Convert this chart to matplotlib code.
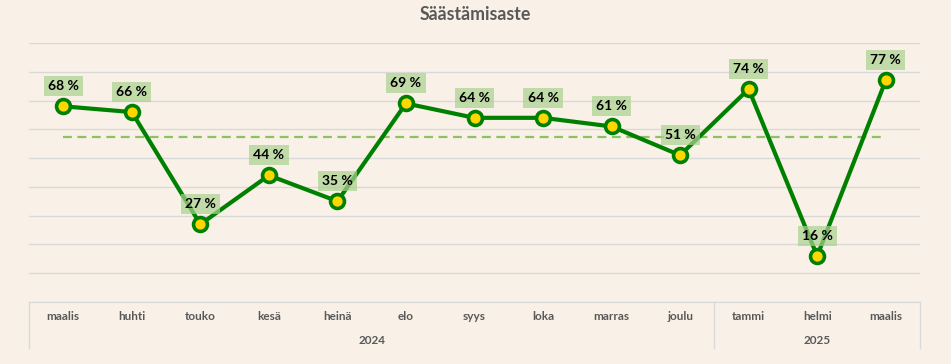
import matplotlib
matplotlib.use("Agg")
import matplotlib.pyplot as plt
from matplotlib.transforms import blended_transform_factory

months = ["maalis", "huhti", "touko", "kesä", "heinä", "elo", "syys",
          "loka", "marras", "joulu", "tammi", "helmi", "maalis"]
values = [68, 66, 27, 44, 35, 69, 64, 64, 61, 51, 74, 16, 77]
years = ["2024", "2025"]
year_counts = [10, 3]
average = 57.2

BG = "#f9f1e7"
GRID = "#d9d9d9"
TXT = "#595959"

plt.rcParams["font.family"] = ["Lato", "DejaVu Sans"]

fig = plt.figure(figsize=(9.51, 3.64), dpi=100, facecolor=BG)
ax = fig.add_axes([29/951, 1 - 302/364, (920 - 29)/951, (302 - 43)/364])
ax.set_facecolor(BG)

x = list(range(len(values)))
ax.set_xlim(-0.5, len(values) - 0.5)
ax.set_ylim(0, 90)
ax.set_yticks(range(0, 91, 10))
ax.grid(axis="y", color=GRID, lw=1)
ax.set_axisbelow(True)
ax.tick_params(left=False, bottom=False, labelleft=False, labelbottom=False)
for s in ["left", "right", "top"]:
    ax.spines[s].set_visible(False)
ax.spines["bottom"].set_color(GRID)

# average line
ax.plot([x[0], x[-1]], [average, average], color="#8cc266", lw=1.6,
        ls=(0, (4, 2.5)), zorder=2)

ax.plot(x, values, color="#008000", lw=3, zorder=3)
ax.plot(x, values, ls="none", marker="o", ms=10, mfc="#ffd700",
        mec="#008000", mew=2.6, zorder=4)

for xi, v in zip(x, values):
    ax.annotate(f"{v} %", (xi, v), xytext=(0, 14.5), textcoords="offset points",
                ha="center", va="center", fontsize=10, fontweight="bold",
                color="black", zorder=5,
                bbox=dict(boxstyle="square,pad=0.3", fc="#a9d18e", ec="none",
                          alpha=0.7))

# category axis
tr = blended_transform_factory(ax.transData, ax.transAxes)
axis_h = (302 - 43)
for xi, m in zip(x, months):
    ax.text(xi, -14/axis_h, m, transform=tr, ha="center", va="center",
            fontsize=8.5, fontweight="bold", color=TXT, clip_on=False)

start = 0
bounds = [-0.5]
for yr, n in zip(years, year_counts):
    mid = start + (n - 1) / 2
    ax.text(mid, -38/axis_h, yr, transform=tr, ha="center", va="center",
            fontsize=8.5, fontweight="bold", color=TXT, clip_on=False)
    start += n
    bounds.append(start - 0.5)
for b in bounds:
    ax.plot([b, b], [0, -46/axis_h], transform=tr, color=GRID, lw=1,
            clip_on=False)

fig.text(0.5, 1 - 15/364, "Säästämisaste", ha="center", va="center",
         fontsize=12.8, fontweight="bold", color=TXT)

fig.savefig("out.png", dpi=100, facecolor=BG)
